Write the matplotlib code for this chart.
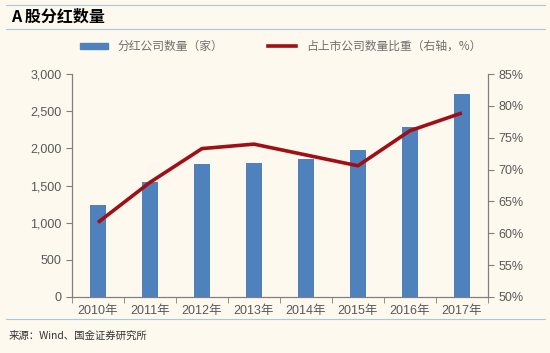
import matplotlib.pyplot as plt
from matplotlib.lines import Line2D

plt.rcParams['font.family'] = ['Liberation Sans', 'Noto Sans CJK SC', 'DejaVu Sans']

years = ["2010年", "2011年", "2012年", "2013年", "2014年", "2015年", "2016年", "2017年"]
dividend_count = [1236, 1548, 1789, 1808, 1856, 1973, 2294, 2732]
share_pct = [61.7, 68.0, 73.3, 74.0, 72.3, 70.6, 76.1, 78.9]

BG = "#fdf9ef"
BAR = "#4f81bd"
LINE = "#a00f16"
GREY = "#7f7f7f"
TXT = "#595959"

fig = plt.figure(figsize=(5.5, 3.53), dpi=100, facecolor=BG)
ax = fig.add_axes([0.131, 0.159, 0.756, 0.631], facecolor=BG)
ax2 = ax.twinx()

x = list(range(len(years)))
ax.bar(x, dividend_count, width=0.31, color=BAR, zorder=2)
ax2.plot(x, share_pct, color=LINE, lw=2.6, zorder=3, solid_capstyle="butt")

ax.set_xlim(-0.5, len(years) - 0.5)
ax.set_ylim(0, 3000)
ax.set_yticks(range(0, 3001, 500))
ax.set_yticklabels([f"{v:,}" for v in range(0, 3001, 500)])
ax2.set_ylim(50, 85)
ax2.set_yticks(range(50, 86, 5))
ax2.set_yticklabels([f"{v}%" for v in range(50, 86, 5)])

ax.set_xticks(x)
ax.set_xticklabels(years)
ax.set_xticks([i + 0.5 for i in range(-1, len(years))], minor=True)
ax.tick_params(axis="x", which="major", length=0, pad=6, labelsize=9, colors=TXT)
ax.tick_params(axis="x", which="minor", length=4, color=GREY, direction="out")
ax.tick_params(axis="y", length=4, color=GREY, labelsize=9, labelcolor=TXT)
ax2.tick_params(axis="y", length=4, color=GREY, labelsize=9, labelcolor=TXT)

for a in (ax, ax2):
    a.spines["top"].set_visible(False)
    for s in ("left", "right", "bottom"):
        a.spines[s].set_color(GREY)
        a.spines[s].set_linewidth(0.8)

handles = [
    plt.Rectangle((0, 0), 1, 1, color=BAR),
    Line2D([0], [0], color=LINE, lw=2.6),
]
fig.legend(handles, ["分红公司数量（家）", "占上市公司数量比重（右轴，%）"],
           loc="center", bbox_to_anchor=(0.51, 0.868), ncol=2, frameon=False,
           labelcolor="#6f6f6f", handlelength=2.4, handleheight=0.45,
           columnspacing=3.8, prop={"family": ["Noto Sans CJK SC"], "size": 8.5})

# title block and rules
fig.add_artist(Line2D([0.01, 0.99], [0.985, 0.985], color="#a9c9d9", lw=0.8))
fig.add_artist(Line2D([0.01, 0.99], [0.918, 0.918], color="#a9c9d9", lw=0.8))
fig.text(0.02, 0.952, "A 股分红数量", fontsize=11.5, fontweight="bold", style="italic",
         va="center", ha="left", family=["Noto Sans CJK SC"])

fig.add_artist(Line2D([0.01, 0.99], [0.095, 0.095], color="#a9c9d9", lw=0.8))
fig.text(0.015, 0.048, "来源：Wind、国金证券研究所", fontsize=7.5, va="center", ha="left",
         color="#333333", family=["Noto Sans CJK SC"])

fig.savefig("out.png", dpi=100, facecolor=BG)
